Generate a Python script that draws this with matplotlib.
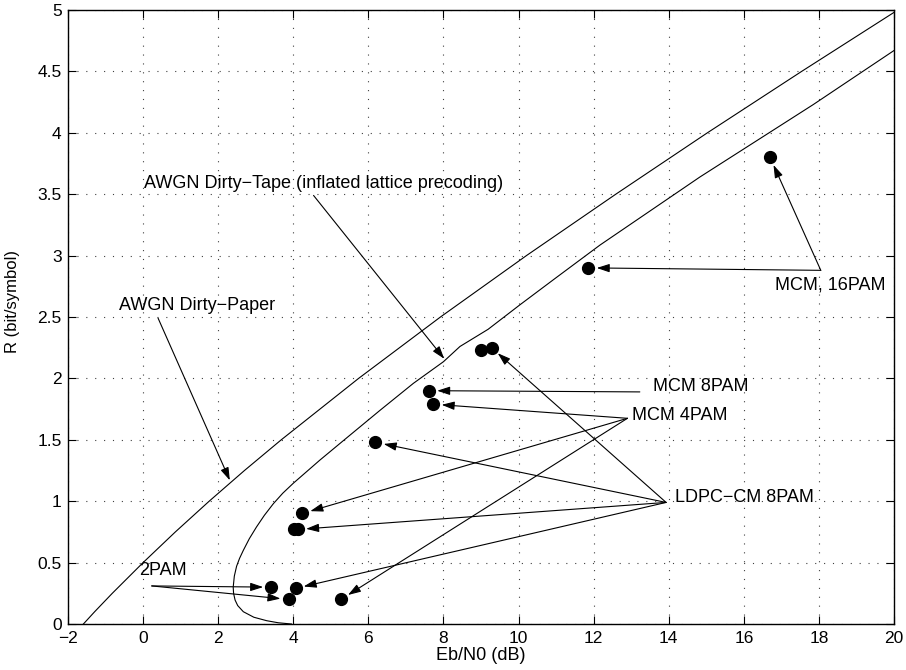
import matplotlib
matplotlib.use("Agg")
import matplotlib.pyplot as plt

# ---------------- data ----------------
# AWGN Dirty-Paper bound (Eb/N0 in dB vs rate)
dp_ebn0 = [-1.59, -1.44, -1.29, -0.82, -0.41, 0.0, 0.86, 1.76, 2.70, 3.68,
           5.74, 7.92, 10.21, 12.59, 15.03, 17.54, 20.10]
dp_rate = [0.0, 0.05, 0.1, 0.25, 0.375, 0.5, 0.75, 1.0, 1.25, 1.5,
           2.0, 2.5, 3.0, 3.5, 4.0, 4.5, 5.0]

# AWGN Dirty-Tape (inflated lattice precoding)
dt_ebn0 = [3.95, 3.60, 3.29, 2.95, 2.67, 2.52, 2.45, 2.41, 2.40, 2.43, 2.49,
           2.57, 2.67, 2.83, 3.02, 3.23, 3.47, 3.72, 4.00, 4.71, 5.40, 6.31,
           7.20, 8.00, 8.44, 9.19, 10.04, 11.0, 12.17, 14.83, 17.85, 20.0]
dt_rate = [0.0, 0.01, 0.027, 0.055, 0.10, 0.15, 0.195, 0.25, 0.30, 0.39, 0.47,
           0.535, 0.60, 0.695, 0.79, 0.885, 0.98, 1.065, 1.146, 1.335, 1.51, 1.74,
           1.96, 2.136, 2.26, 2.40, 2.60, 2.82, 3.086, 3.64, 4.23, 4.67]

# simulated operating points
pam2_x = [3.42, 3.88]
pam2_y = [0.30, 0.20]
mcm4_x = [7.73, 4.24, 5.27]
mcm4_y = [1.79, 0.90, 0.20]
mcm8_x = [7.61]
mcm8_y = [1.90]
mcm16_x = [11.86, 16.70]
mcm16_y = [2.90, 3.80]
ldpc_x = [9.00, 9.28, 6.19, 4.02, 4.12, 4.06]
ldpc_y = [2.23, 2.25, 1.48, 0.77, 0.77, 0.29]

xticks = [-2, 0, 2, 4, 6, 8, 10, 12, 14, 16, 18, 20]
yticks = [0, 0.5, 1, 1.5, 2, 2.5, 3, 3.5, 4, 4.5, 5]
xtick_labels = ["\u22122", "0", "2", "4", "6", "8", "10", "12", "14", "16", "18", "20"]
ytick_labels = ["0", "0.5", "1", "1.5", "2", "2.5", "3", "3.5", "4", "4.5", "5"]

# ---------------- figure ----------------
plt.rcParams['font.family'] = ['Liberation Sans', 'DejaVu Sans']

fig = plt.figure(figsize=(9.06, 6.70), dpi=100)
ax = fig.add_axes([68/906, 46/670, 826/906, 614/670])

ax.plot(dp_ebn0, dp_rate, color='k', lw=0.8)
ax.plot(dt_ebn0, dt_rate, color='k', lw=0.8)

allx = pam2_x + mcm4_x + mcm8_x + mcm16_x + ldpc_x
ally = pam2_y + mcm4_y + mcm8_y + mcm16_y + ldpc_y
ax.plot(allx, ally, 'o', color='k', markersize=8.5, linestyle='none')

ax.set_xlim(-2, 20)
ax.set_ylim(0, 5)
ax.set_xticks(xticks)
ax.set_xticklabels(xtick_labels)
ax.set_yticks(yticks)
ax.set_yticklabels(ytick_labels)
ax.tick_params(direction='in', length=5.5, width=0.8, top=True, right=True,
               labelsize=12.5)
ax.tick_params(axis='x', pad=5)
ax.tick_params(axis='y', pad=4.5)
ax.grid(True, linestyle=(0, (1, 7)), color='0.25', lw=0.8)
for s in ax.spines.values():
    s.set_linewidth(1.0)

ax.set_xlabel('Eb/N0 (dB)', fontsize=13, labelpad=1)
ax.set_ylabel('R (bit/symbol)', fontsize=12)
ax.yaxis.set_label_coords(-0.058, 0.526)

arrow = dict(arrowstyle='-|>,head_length=0.55,head_width=0.18',
             color='k', lw=0.8, mutation_scale=14, shrinkA=0)

def arr(tail, head, shrink=6):
    p = dict(arrow)
    p['shrinkB'] = shrink
    ax.annotate('', xy=head, xytext=tail, arrowprops=p)

fs = 13
# curve labels
ax.text(-0.64, 2.59, 'AWGN Dirty\u2212Paper', fontsize=fs, ha='left', va='center')
arr((0.40, 2.49), (2.31, 1.17), shrink=0)
ax.text(0.02, 3.59, 'AWGN Dirty\u2212Tape (inflated lattice precoding)',
        fontsize=fs, ha='left', va='center')
arr((4.54, 3.49), (8.02, 2.16), shrink=0)

# MCM 16PAM
ax.text(16.83, 2.76, 'MCM, 16PAM', fontsize=fs, ha='left', va='center')
for x, y in zip(mcm16_x, mcm16_y):
    arr((18.05, 2.88), (x, y))

# MCM 8PAM
ax.text(13.57, 1.93, 'MCM 8PAM', fontsize=fs, ha='left', va='center')
for x, y in zip(mcm8_x, mcm8_y):
    arr((13.23, 1.89), (x, y))

# MCM 4PAM
ax.text(13.01, 1.70, 'MCM 4PAM', fontsize=fs, ha='left', va='center')
for x, y in zip(mcm4_x, mcm4_y):
    arr((12.90, 1.675), (x, y))

# LDPC-CM 8PAM
ax.text(14.18, 1.03, 'LDPC\u2212CM 8PAM', fontsize=fs, ha='left', va='center')
for i in [1, 2, 4, 5]:
    arr((13.93, 0.99), (ldpc_x[i], ldpc_y[i]))

# 2PAM
ax.text(-0.10, 0.434, '2PAM', fontsize=fs, ha='left', va='center')
for x, y in zip(pam2_x, pam2_y):
    arr((0.23, 0.31), (x, y))

fig.savefig('out.png', dpi=100)
